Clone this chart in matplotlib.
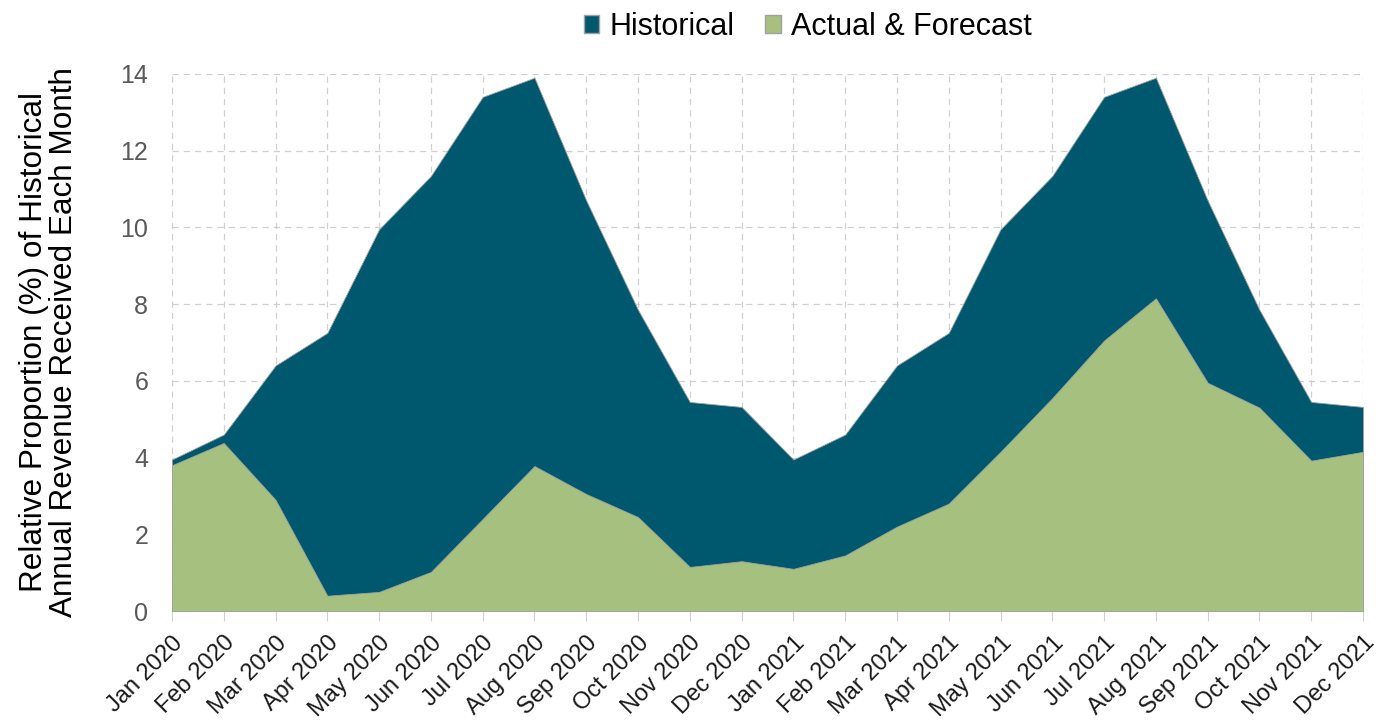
import matplotlib.pyplot as plt
from matplotlib.patches import Patch

plt.rcParams['font.family'] = ['Liberation Sans', 'DejaVu Sans']

months = ['Jan 2020', 'Feb 2020', 'Mar 2020', 'Apr 2020', 'May 2020', 'Jun 2020',
          'Jul 2020', 'Aug 2020', 'Sep 2020', 'Oct 2020', 'Nov 2020', 'Dec 2020',
          'Jan 2021', 'Feb 2021', 'Mar 2021', 'Apr 2021', 'May 2021', 'Jun 2021',
          'Jul 2021', 'Aug 2021', 'Sep 2021', 'Oct 2021', 'Nov 2021', 'Dec 2021']
historical = [3.95, 4.6, 6.4, 7.25, 9.95, 11.34, 13.4, 13.9, 10.7, 7.85, 5.45, 5.32,
              3.95, 4.6, 6.4, 7.25, 9.95, 11.34, 13.4, 13.9, 10.7, 7.85, 5.45, 5.32]
actual_forecast = [3.8, 4.38, 2.9, 0.4, 0.5, 1.02, 2.4, 3.78, 3.05, 2.45, 1.15, 1.3,
                   1.1, 1.45, 2.2, 2.8, 4.15, 5.55, 7.05, 8.15, 5.95, 5.3, 3.92, 4.15]

teal = '#00586F'
green = '#A6C17F'

fig = plt.figure(figsize=(13.79, 7.24), dpi=100)
ax = fig.add_axes([0.1247, 0.156, 0.8637, 0.742])

x = range(len(months))
ax.fill_between(x, 0, historical, color=teal, edgecolor='#A0A0A0', linewidth=0.6, zorder=2)
ax.fill_between(x, 0, actual_forecast, color=green, edgecolor='#A0A0A0', linewidth=0.6, zorder=3)

ax.set_xlim(0, len(months) - 1)
ax.set_ylim(0, 14)
ax.set_yticks(range(0, 15, 2))
ax.set_xticks(list(x))
ax.set_xticklabels(months, rotation=45, ha='right', rotation_mode='anchor', fontsize=17)
ax.tick_params(axis='y', length=0, labelsize=18, labelcolor='#595959', pad=17)
ax.tick_params(axis='x', length=7, color='#D0D0D0', labelcolor='#1a1a1a', pad=8)

ax.grid(True, color='#D0D0D0', linestyle=(0, (5, 4)), linewidth=0.9, zorder=1)
ax.set_axisbelow(True)
for s in ['top', 'right', 'left']:
    ax.spines[s].set_visible(False)
ax.spines['bottom'].set_color('#D0D0D0')

ax.set_ylabel('Relative Proportion (%) of Historical\nAnnual Revenue Received Each Month',
              fontsize=22.7, color='#000000', labelpad=30, linespacing=1.0)

handles = [Patch(facecolor=teal, edgecolor='#A0A0A0', label='Historical'),
           Patch(facecolor=green, edgecolor='#A0A0A0', label='Actual & Forecast')]
fig.legend(handles=handles, loc='center', bbox_to_anchor=(0.586, 0.963), ncol=2,
           frameon=False, fontsize=22, handlelength=0.5, handleheight=0.5,
           handletextpad=0.35, columnspacing=1.0)

fig.savefig('out.png', dpi=100)
